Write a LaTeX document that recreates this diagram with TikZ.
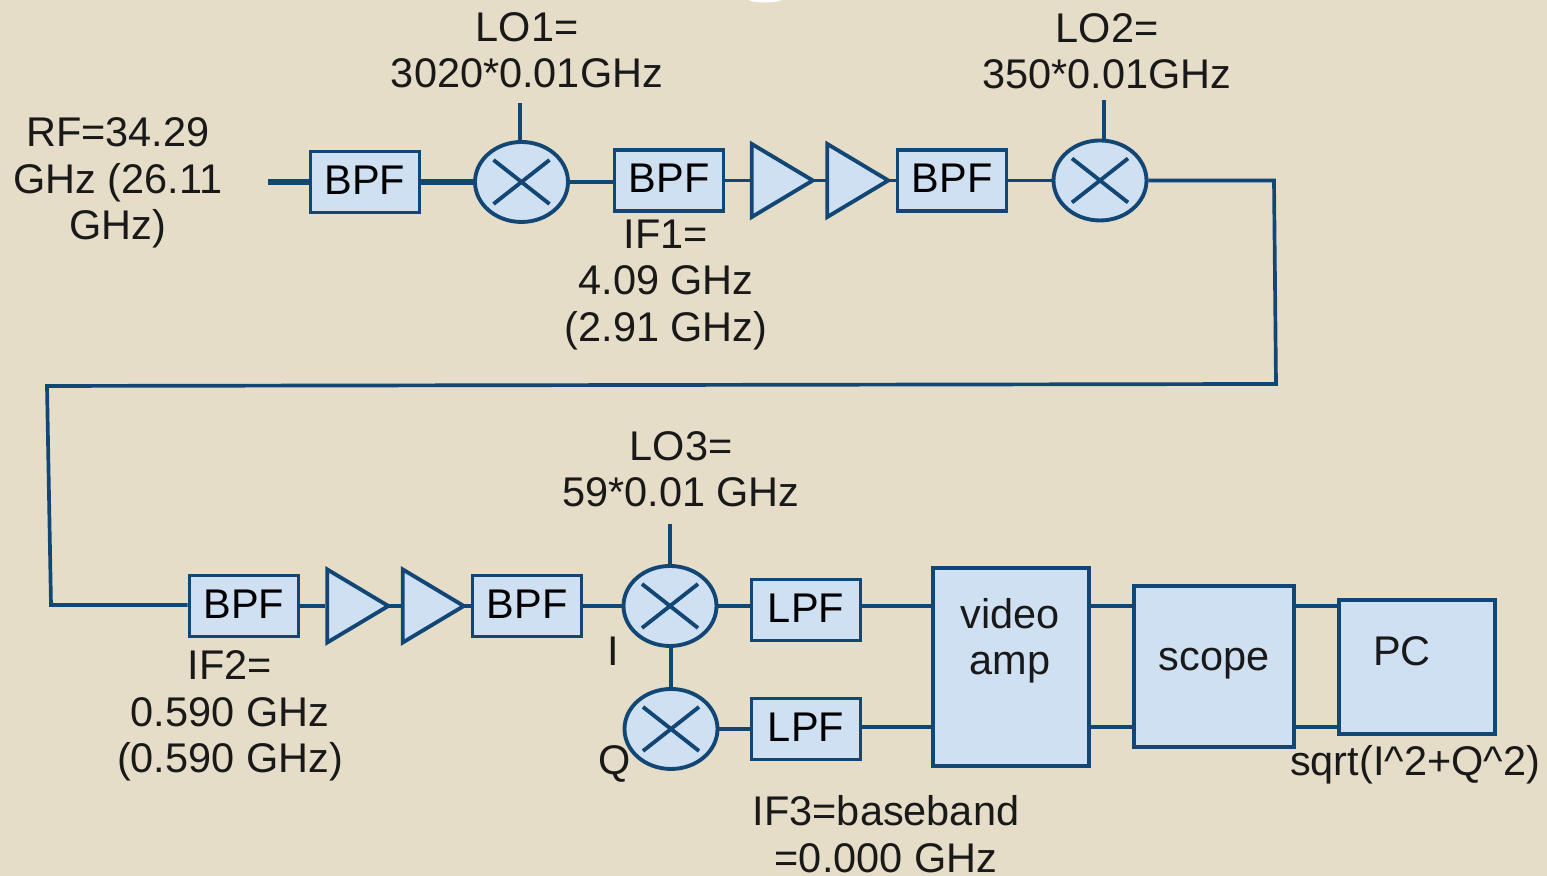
\documentclass[tikz,border=0pt]{standalone}
\usepackage{fontspec}
\setmainfont{Liberation Sans}
\usepackage{xcolor}
\usetikzlibrary{calc,positioning,shapes.geometric}
\definecolor{paperbeige}{HTML}{E6DDC8}
\definecolor{blockfill}{HTML}{CEE0F2}
\definecolor{wireblue}{HTML}{124674}

\begin{document}
\begin{tikzpicture}[
  x=1cm,
  y=1cm,
  font=\fontsize{11.8pt}{13.2pt}\selectfont,
  block/.style={rectangle, draw=wireblue, fill=blockfill, align=center, inner sep=0pt, line width=1.1pt},
  filterbox/.style={block, minimum width=1.09cm, minimum height=0.61cm, text depth=1.2pt},
  mixer/.style={ellipse, draw=wireblue, fill=blockfill, inner sep=0pt, line width=1.1pt,
    minimum width=0.93cm, minimum height=0.80cm,
    path picture={
      \draw[wireblue, line width=1.1pt]
        ($(path picture bounding box.center)+(-0.28,0.22)$) -- ($(path picture bounding box.center)+(0.28,-0.22)$)
        ($(path picture bounding box.center)+(-0.28,-0.22)$) -- ($(path picture bounding box.center)+(0.28,0.22)$);
    }},
  ampl/.style={isosceles triangle, isosceles triangle stretches, shape border rotate=0, draw=wireblue, fill=blockfill,
    inner sep=0pt, line width=1.1pt, minimum height=0.61cm, minimum width=0.73cm},
  wire/.style={draw=wireblue, line width=1.05pt},
  ampwire/.style={wire, shorten <=-1.5pt, shorten >=-1pt},
  thickwire/.style={draw=wireblue, line width=1.5pt},
  label/.style={align=center, text=black!90}
]

\useasboundingbox (0,0) rectangle (15.47,8.76);
\fill[paperbeige] (0,0) rectangle (15.47,8.76);
\fill[white] (7.65,8.76) ellipse (0.16 and 0.025);

% top row
\node[filterbox] (bpfa) at (3.65,6.94) {BPF};
\node[mixer] (mixa) at (5.215,6.94) {};
\node[filterbox] (bpfb) at (6.69,6.955) {BPF};
\node[ampl] (ampa) at (7.725,6.955) {};
\node[ampl] (ampb) at (8.48,6.955) {};
\node[filterbox] (bpfc) at (9.52,6.955) {BPF};
\node[mixer] (mixb) at (11.00,6.955) {};

\coordinate (rfin) at (2.68,6.94);
\coordinate (loatop) at (5.20,7.73);
\coordinate (lobtop) at (11.04,7.76);
\draw[thickwire] (rfin) -- (bpfa.west);
\draw[thickwire] (bpfa.east) -- (mixa.west);
\draw[wire] (mixa.east) -- (mixa.east -| bpfb.west);
\draw[wire] (bpfb.east) -- (ampa.lower side);
\draw[ampwire] (ampa.apex) -- (ampb.lower side);
\draw[ampwire] (ampb.apex) -- (bpfc.west);
\draw[wire] (bpfc.east) -- (mixb.west);
\draw[wire] (loatop) -- (loatop |- mixa.north);
\draw[wire] (lobtop) -- (lobtop |- mixb.north);

% bottom row
\node[filterbox] (bpfd) at (2.44,2.70) {BPF};
\node[ampl] (ampc) at (3.48,2.70) {};
\node[ampl] (ampd) at (4.235,2.70) {};
\node[filterbox] (bpfe) at (5.27,2.70) {BPF};
\node[mixer] (mixc) at (6.70,2.70) {};
\node[mixer] (mixd) at (6.71,1.47) {};
\node[filterbox] (lpfa) at (8.06,2.66) {LPF};
\node[filterbox] (lpfb) at (8.06,1.47) {LPF};
\node[block, minimum width=1.56cm, minimum height=1.98cm] (video) at (10.11,2.09) {};
\node[block, minimum width=1.60cm, minimum height=1.61cm] (scope) at (12.14,2.095) {};
\node[block, minimum width=1.56cm, minimum height=1.34cm] (pc) at (14.17,2.09) {};

% long wire between the rows
\coordinate (turna) at (12.74,6.955);
\coordinate (turnb) at (12.76,4.92);
\coordinate (turnc) at (0.47,4.90);
\coordinate (turnd) at (0.51,2.71);
\coordinate (loctop) at (6.70,3.52);
\draw[wire] (mixb.east) -- (turna) -- (turnb) -- (turnc) -- (turnd) -- (bpfd.west |- turnd);

\draw[wire] (bpfd.east) -- (ampc.lower side);
\draw[ampwire] (ampc.apex) -- (ampd.lower side);
\draw[ampwire] (ampd.apex) -- (bpfe.west);
\draw[wire] (bpfe.east) -- (mixc.west);
\draw[wire] (loctop) -- (mixc.north);
\draw[wire] (mixd.north) -- (mixd.north |- mixc.south);
\draw[wire] (mixc.east) -- (mixc.east -| lpfa.west);
\draw[wire] (mixd.east) -- (lpfb.west);
\draw[wire] (lpfa.east |- mixc.east) -- (video.west |- mixc.east);
\draw[wire] (lpfb.east |- 0,1.49) -- (video.west |- 0,1.49);
\draw[wire] (video.east |- mixc.east) -- (scope.west |- mixc.east);
\draw[wire] (video.east |- 0,1.49) -- (scope.west |- 0,1.49);
\draw[wire] (scope.east |- mixc.east) -- (pc.west |- mixc.east);
\draw[wire] (scope.east |- 0,1.49) -- (pc.west |- 0,1.49);

% labels
\node[label] (rflabel) at (1.18,6.93) {RF=34.29\\GHz (26.11\\GHz)};
\node[label] (loalabel) at (5.27,8.26) {LO1=\\3020*0.01GHz};
\node[label] (loblabel) at (11.07,8.25) {LO2=\\350*0.01GHz};
\node[label] (ifalabel) at (6.66,5.91) {IF1=\\4.09 GHz\\(2.91 GHz)};
\node[label] (loclabel) at (6.81,4.07) {LO3=\\59*0.01 GHz};
\node[label] (ifblabel) at (2.30,1.60) {IF2=\\0.590 GHz\\(0.590 GHz)};
\node[label] (ilabel) at (6.13,2.25) {I};
\node[label] (qlabel) at (6.15,1.12) {Q};
\node[label] (videolabel) at (10.10,2.355) {video\\amp};
\node[label] (scopelabel) at (12.14,2.12) {scope};
\node[label] (pclabel) at (14.02,2.25) {PC};
\node[label] (sqrtlabel) at (14.15,1.11) {sqrt(I\^{}2+Q\^{}2)};
\node[label] (ifclabel) at (8.86,0.42) {IF3=baseband\\=0.000 GHz};

\end{tikzpicture}
\end{document}
